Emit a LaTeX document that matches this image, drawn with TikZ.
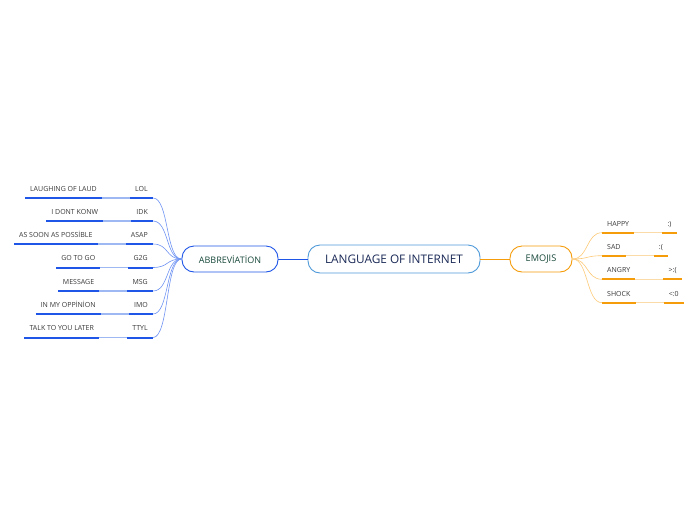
\documentclass[tikz,border=0pt]{standalone}
\usepackage{fontspec}
\setmainfont{Open Sans}
\usetikzlibrary{positioning}
\definecolor{abblue}{HTML}{1F56E8}
\definecolor{abpale}{HTML}{9DB8F2}
\definecolor{abcurve}{HTML}{6F93F2}
\definecolor{emorange}{HTML}{F59C0A}
\definecolor{empale}{HTML}{FBDCA8}
\definecolor{emcurve}{HTML}{FCC977}
\definecolor{rootblue}{HTML}{4F9BD9}
\definecolor{navy}{HTML}{1B2A57}
\definecolor{deepgreen}{HTML}{17483A}
\tikzset{bubble/.style={draw, line width=0.9pt, rounded corners=12pt, fill=white, align=center}}
\tikzset{kline/.style={inner xsep=5pt, inner ysep=6.5pt, text=black!78, font=\fontsize{7}{8}\selectfont, text height=5pt, text depth=0pt}}
\tikzset{uline/.style={draw=#1, line width=2pt}}
\tikzset{softline/.style={draw=#1, line width=1.3pt}}
\tikzset{twig/.style={draw=#1, line width=0.6pt}}
\begin{document}
\begin{tikzpicture}[x=1pt, y=-1pt]
    \useasboundingbox (0,0) rectangle (696,520);
    \node[bubble, draw=rootblue, text=navy, minimum width=172pt, minimum height=28pt,
        font=\fontsize{11.8}{14}\selectfont] (lang) at (394,259) {LANGUAGE OF INTERNET};
    \node[bubble, draw=abblue, text=deepgreen, minimum width=96pt, minimum height=26pt,
        font=\fontsize{9}{10}\selectfont] (abbr) at (230,259) {ABBREVİATİON};
    \node[bubble, draw=emorange, text=deepgreen, minimum width=62pt, minimum height=26pt,
        font=\fontsize{9.2}{10}\selectfont] (emo) at (541,259) {EMOJIS};
    \draw[draw=abblue, line width=0.8pt] (lang) -- (abbr);
    \draw[draw=emorange, line width=0.8pt] (lang) -- (emo);
    % abbreviations, short form on the right and long form on the left
    \foreach \abbrev/\longform/\y [count=\i] in {LOL/LAUGHING OF LAUD/198, IDK/I DONT KONW/221,
        ASAP/AS SOON AS POSSİBLE/244, G2G/GO TO GO/267.5, MSG/MESSAGE/291,
        IMO/IN MY OPPİNİON/314, TTYL/TALK TO YOU LATER/337.5}{
        \node[kline, anchor=south east] (k\i) at (153,\y) {\abbrev};
        \node[kline, left=28pt of k\i] (m\i) {\longform};
        \draw[softline=abpale] (m\i.south east) -- (k\i.south west);
        \draw[uline=abblue] (k\i.south west) -- (k\i.south east);
        \draw[uline=abblue] (m\i.south west) -- (m\i.south east);
        \draw[twig=abcurve] (abbr.west) .. controls +(-16,0) and +(16,0) .. (k\i.south east);
    }
    % emojis, name on the left and smiley on the right
    \foreach \feel/\smiley/\y [count=\i] in {HAPPY/{:)}/232.7, SAD/{:(}/255.7, ANGRY/{>:(}/279.3, SHOCK/{<:0}/302.7}{
        \node[kline, anchor=south west] (f\i) at (602,\y) {\feel};
        \node[kline, right=28pt of f\i] (s\i) {\smiley};
        \draw[softline=empale] (f\i.south east) -- (s\i.south west);
        \draw[uline=emorange] (f\i.south west) -- (f\i.south east);
        \draw[uline=emorange] (s\i.south west) -- (s\i.south east);
        \draw[twig=emcurve] (emo.east) .. controls +(16,0) and +(-16,0) .. (f\i.south west);
    }
\end{tikzpicture}
\end{document}
